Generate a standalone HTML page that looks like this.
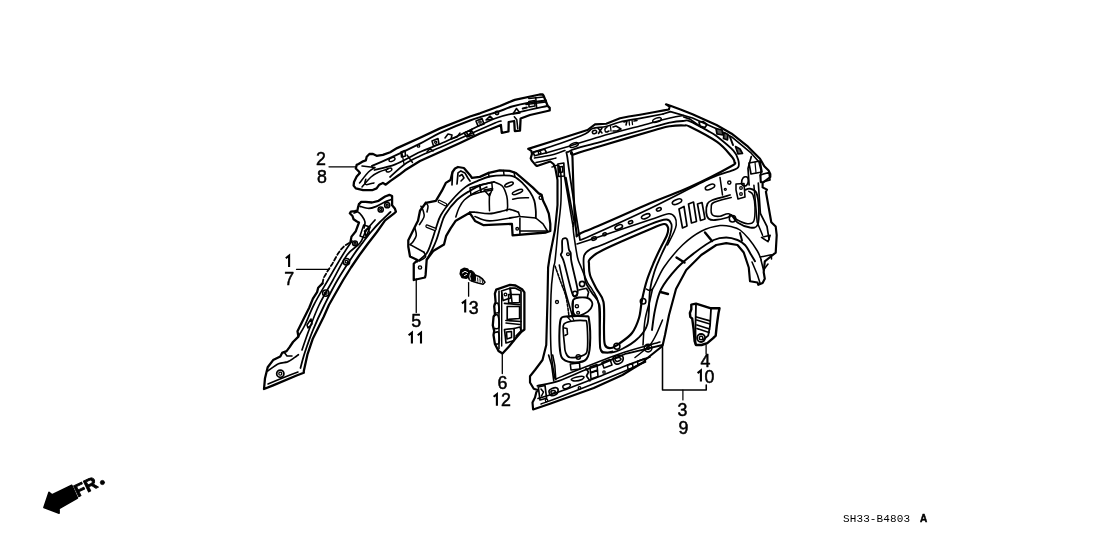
<!DOCTYPE html>
<html><head><meta charset="utf-8"><style>
html,body{margin:0;padding:0;background:#fff;}
body{width:1108px;height:553px;overflow:hidden;}
svg{display:block;filter:grayscale(1);}
.lbl{font-family:"Liberation Sans",sans-serif;fill:#000;stroke:#000;stroke-width:0.5px;}
.code{font-family:"Liberation Mono",monospace;fill:#000;}
</style></head><body>
<svg width="1108" height="553" viewBox="0 0 1108 553" stroke-linejoin="round" stroke-linecap="round">
<path d="M355.8,168.5 L356.7,164.9 L358.6,164 L363.1,161.3 L365.8,160.4 L366.7,156.7 L369.4,154 L373,154 L376.6,155.8 L382.9,154.9 L390.2,152.2 L397.1,148.1 L420,137.7 L440,128.4 L470,116.5 L480,113.3 L500,106 L512.8,100.6 L514.8,99.9 L539.7,94.5 L542.7,94.5 L543.7,96 L547.7,105.9 L549.7,107.9 L549.7,110.5 L530,115 L520.6,118.5 L520,130.6 L514.8,131 L514.2,121 L508.7,122 L508.5,131.5 L501.8,132.8 L500.9,125 L480,133.5 L460,143 L440,152 L420,161 L405,170.3 L399.2,174.8 L390.2,181.1 L385.7,184.7 L382.9,182.9 L379.3,184.7 L376.6,188.4 L372.1,190.2 L363.1,190.2 L355.8,188.4 L353.6,185.6 L354,182 L356.7,176.6 L359.9,173 L358.6,171.2 Z" fill="#fff" stroke="#000" stroke-width="2.28" />
<path d="M372,166 C374.7,164.8 380.1,162.6 388.1,158.9 C396.1,155.2 411.4,147.9 420,143.6 C428.6,139.3 431.7,136.8 440,132.9 C448.3,129.1 460.0,124.2 470,120.5 C480.0,116.8 493.0,113.3 500,111 C507.0,108.7 507.0,107.9 512,106.5 C517.0,105.1 524.3,103.5 530,102.5 C535.7,101.5 543.3,100.8 546,100.5" fill="none" stroke="#000" stroke-width="1.92" />
<path d="M374.5,170 C378.0,169.1 387.7,167.4 395.3,164.4 C402.9,161.4 412.6,155.4 420,152 C427.4,148.6 433.3,146.8 440,144 C446.7,141.2 450.8,139.2 460,135 C469.2,130.8 485.0,122.3 495,118.5 C505.0,114.7 511.3,114.1 520,112 C528.7,109.9 542.5,107.0 547,106" fill="none" stroke="#000" stroke-width="1.7999999999999998" />
<path d="M390,177 C392.5,174.8 400.0,167.5 405,164 C410.0,160.5 414.2,158.8 420,156 C425.8,153.2 433.3,150.4 440,147.5 C446.7,144.6 450.8,142.6 460,138.5 C469.2,134.4 488.2,125.9 495,123 C501.8,120.1 500.0,121.3 501,121" fill="none" stroke="#000" stroke-width="1.68" />
<path d="M362,166 L374.8,167.6" fill="none" stroke="#000" stroke-width="1.56" />
<path d="M365.8,179.3 C365.6,179.9 364.8,182.1 364.9,183 C365.0,183.9 365.2,184.7 366.7,184.7 C368.2,184.7 372.7,183.2 373.9,182.9" fill="none" stroke="#000" stroke-width="1.56" />
<path d="M359.5,183 C361.0,181.2 365.9,174.6 368.5,172 C371.1,169.4 373.8,168.3 374.8,167.6" fill="none" stroke="#000" stroke-width="1.56" />
<path d="M362,187 C363.5,185.3 368.2,179.5 371,177 C373.8,174.5 376.2,173.3 379,172 C381.8,170.7 386.5,169.5 388,169" fill="none" stroke="#000" stroke-width="1.56" />
<path d="M407,155 L412.5,162.5" stroke="#000" stroke-width="1.4"/>
<path d="M402,153 L404,164" stroke="#000" stroke-width="1.3"/>
<path d="M528.8,98.5 L543.7,97" fill="none" stroke="#000" stroke-width="1.56" />
<path d="M526,104.5 L545.7,102" fill="none" stroke="#000" stroke-width="1.56" />
<path d="M535.7,97.5 L536.7,108" fill="none" stroke="#000" stroke-width="1.56" />
<path d="M514.3,116.8 L516.8,119.8 L517.8,128.8" fill="none" stroke="#000" stroke-width="1.55" />
<path d="M513,114 L516.5,108.5 L520,113 Z" fill="none" stroke="#000" stroke-width="1.56" />
<path d="M528.8,101.5 L534.7,100.5 L535,106 L529,107 Z" fill="none" stroke="#000" stroke-width="1.56" />
<path d="M522.8,108.5 L526.8,107.5" fill="none" stroke="#000" stroke-width="2.16" />
<circle cx="497" cy="113" r="1.6" fill="none" stroke="#000" stroke-width="1.6500000000000001"/>
<ellipse cx="392" cy="159.5" rx="3.2" ry="1.7" transform="rotate(-22 392 159.5)" fill="none" stroke="#000" stroke-width="1.4"/>
<ellipse cx="389" cy="170" rx="3" ry="1.7" transform="rotate(-22 389 170)" fill="none" stroke="#000" stroke-width="1.4"/>
<path d="M476,121 L482,118.5 L484,124 L478,126 Z" fill="none" stroke="#000" stroke-width="1.68" />
<circle cx="480" cy="122" r="1.2" fill="none" stroke="#000" stroke-width="1.3"/>
<path d="M486,120 L490,116 L493,119 Z" fill="none" stroke="#000" stroke-width="1.55" />
<path d="M445,138 L448,134 L452,135 L451,139 L457,137 L460,133" fill="none" stroke="#000" stroke-width="1.56" />
<path d="M464,133 L471,130 L474,134.5 L467,137 Z" fill="none" stroke="#000" stroke-width="1.56" />
<path d="M466,132 L469,136 L472,129" fill="none" stroke="#000" stroke-width="1.55" />
<path d="M432,141 L438,138.5 L439,144 L433.5,146 Z" fill="none" stroke="#000" stroke-width="1.56" />
<circle cx="435.7" cy="142.3" r="1.1" fill="none" stroke="#000" stroke-width="1.3"/>
<circle cx="418.5" cy="146" r="1.2" fill="none" stroke="#000" stroke-width="1.32"/>
<path d="M427,152 L430,148.5 L433,151" fill="none" stroke="#000" stroke-width="1.56" />
<path d="M401,152 L405,150.5 L405.5,156 L401.5,157 Z" fill="none" stroke="#000" stroke-width="1.56" />
<path d="M329,166.8 L356,166.8" stroke="#000" stroke-width="1.3"/>
<path d="M359,204.1 L361.2,201.9 L365.6,201.9 L372,202.5 L378.6,200.8 L385.1,196.5 L389.4,194.9 L392.1,196 L392.1,205.2 L394.8,208.4 L395.9,211.7 L394.8,212.8 L385.1,220.4 L376.9,232 L368,243.5 L359.5,255 L351,267.5 L343.2,280 L336,292.5 L328.9,305 L323.7,316.7 L312.9,338.4 L307.4,354.7 L303.8,371 L303.8,372.8 L296.6,375.5 L273.1,385.4 L264,389 L265,378.2 L267.7,367.3 L273.1,360.1 L280.3,356.5 L282.1,352.9 L286.6,351.1 L289.4,347.4 L293,342 L298.4,336.6 L297.5,331.2 L303.8,318.5 L309.2,307.7 L312.9,298.6 L317.1,292.1 L318.2,287.7 L322.5,283.4 L323.6,278 L328,270.4 L332.3,263.9 L337.7,254.1 L340.6,250 L343.9,246.4 L347.1,244.2 L350.4,242.1 L351.5,236.6 L355.8,231.2 L359,222.5 L356.9,221.5 L353.6,219.3 L352.5,216 L349.8,213.3 L350.9,211.7 L354.7,211.1 L357.4,210.6 L358,207.4 Z" fill="#fff" stroke="#000" stroke-width="1.55" stroke-opacity="0"/>
<path d="M359,204.1 L361.2,201.9 L365.6,201.9 L372,202.5 L378.6,200.8 L385.1,196.5 L389.4,194.9 L392.1,196 L392.1,205.2 L394.8,208.4 L395.9,211.7 L394.8,212.8 L385.1,220.4 L376.9,232 L368,243.5 L359.5,255 L351,267.5 L343.2,280 L336,292.5 L328.9,305 L323.7,316.7 L312.9,338.4 L307.4,354.7 L303.8,371 L303.8,372.8 L296.6,375.5 L273.1,385.4 L264,389 L265,378.2 L267.7,367.3 L273.1,360.1 L280.3,356.5 L282.1,352.9 L286.6,351.1 L289.4,347.4 L293,342 L298.4,336.6 L297.5,331.2 L303.8,318.5 L309.2,307.7 L312.9,298.6 L317.1,292.1 L318.2,287.7 L322.5,283.4" fill="none" stroke="#000" stroke-width="2.28" />
<path d="M350.4,242.1 L351.5,236.6 L355.8,231.2 L359,222.5 L356.9,221.5 L353.6,219.3 L352.5,216 L349.8,213.3 L350.9,211.7 L354.7,211.1 L357.4,210.6 L358,207.4 L359,204.1" fill="none" stroke="#000" stroke-width="2.28" />
<path d="M322.5,283.4 L323.6,278 L328,270.4 L332.3,263.9 L337.7,254.1 L340.6,250 L343.9,246.4 L347.1,244.2 L350.4,242.1" fill="none" stroke="#000" stroke-width="1.7999999999999998" stroke-dasharray="4 2.5"/>
<path d="M360.1,206.3 C361.6,206.7 366.1,208.4 368.8,208.4 C371.5,208.4 373.7,207.4 376.4,206.3 C379.1,205.2 382.8,203.0 385.1,201.9 C387.5,200.8 389.6,200.2 390.5,199.8" fill="none" stroke="#000" stroke-width="1.7999999999999998" />
<path d="M354,213 C354.7,212.8 356.7,211.5 358,212 C359.3,212.5 360.8,214.3 362,216 C363.2,217.7 364.7,220.0 365,222 C365.3,224.0 364.2,227.0 364,228" fill="none" stroke="#000" stroke-width="1.68" />
<path d="M390.5,212 C388.8,213.7 383.2,218.7 380,222 C376.8,225.3 374.0,228.4 371,232 C368.0,235.6 364.9,239.7 362,243.5 C359.1,247.3 357.6,248.9 353.5,255 C349.4,261.1 342.4,271.7 337.5,280 C332.6,288.3 328.5,296.7 324.4,305 C320.3,313.3 316.2,322.2 313,330 C309.8,337.8 307.1,345.7 305,352 C302.9,358.3 301.2,365.3 300.5,368" fill="none" stroke="#000" stroke-width="1.7999999999999998" />
<path d="M375,220 C373.5,221.8 368.5,227.2 366,231 C363.5,234.8 363.2,239.0 360,243 C356.8,247.0 351.5,248.8 347,255 C342.5,261.2 337.6,271.7 333,280 C328.4,288.3 323.1,296.7 319.1,305 C315.1,313.3 311.9,322.5 309,330 C306.1,337.5 303.2,346.7 302,350" fill="none" stroke="#000" stroke-width="1.68" />
<path d="M352,241 C350.4,243.3 346.7,248.5 342.7,255 C338.7,261.5 332.8,271.7 328,280 C323.2,288.3 317.6,297.5 313.8,305 C310.0,312.5 307.6,319.7 305,325 C302.4,330.3 299.2,335.0 298,337" fill="none" stroke="#000" stroke-width="1.68" />
<path d="M363.7,225 L370.2,227 L365.5,238 L360,236 Z" fill="none" stroke="#000" stroke-width="1.56" />
<circle cx="380.7" cy="209.5" r="2.6" fill="none" stroke="#000" stroke-width="1.54"/>
<circle cx="380.7" cy="209.5" r="1.04" fill="none" stroke="#000" stroke-width="1.3"/>
<circle cx="387.2" cy="205.2" r="2.6" fill="none" stroke="#000" stroke-width="1.54"/>
<circle cx="387.2" cy="205.2" r="1.04" fill="none" stroke="#000" stroke-width="1.3"/>
<circle cx="346.4" cy="261.7" r="3.2" fill="none" stroke="#000" stroke-width="1.54"/>
<circle cx="346.4" cy="261.7" r="1.2800000000000002" fill="none" stroke="#000" stroke-width="1.3"/>
<circle cx="325.8" cy="293.1" r="3.2" fill="none" stroke="#000" stroke-width="1.54"/>
<circle cx="325.8" cy="293.1" r="1.2800000000000002" fill="none" stroke="#000" stroke-width="1.3"/>
<circle cx="355" cy="243.3" r="2.4" fill="none" stroke="#000" stroke-width="1.54"/>
<circle cx="355" cy="243.3" r="0.96" fill="none" stroke="#000" stroke-width="1.3"/>
<path d="M364.5,231 L368,228 L369.5,233 L366,236 Z" fill="none" stroke="#000" stroke-width="1.55" />
<path d="M307,325 L311,319 L312,324 L308,328 Z" fill="none" stroke="#000" stroke-width="1.55" />
<path d="M267.7,371 C269.5,369.8 275.2,365.2 278.5,363.7 C281.8,362.2 284.8,362.9 287.5,361.9 C290.2,360.8 293.0,358.6 294.8,357.4 C296.6,356.2 297.8,355.1 298.4,354.7" fill="none" stroke="#000" stroke-width="1.68" />
<path d="M268,384 C270.8,382.8 280.0,379.0 285,377 C290.0,375.0 295.8,372.8 298,372" fill="none" stroke="#000" stroke-width="1.56" />
<path d="M284,352 L287,356 L292,356" fill="none" stroke="#000" stroke-width="1.56" />
<circle cx="280.3" cy="373.7" r="3.6" fill="none" stroke="#000" stroke-width="1.7600000000000002"/>
<circle cx="280.3" cy="373.7" r="1.5" fill="none" stroke="#000" stroke-width="1.3"/>
<path d="M296.5,269.3 L329,269.3" stroke="#000" stroke-width="1.3"/>
<path d="M413.75,280 L413.75,263.75 L417.5,260 L410,256.5 L408.3,246.7 L408.3,240.2 L411.5,233.7 L415.8,225 L418,220.7 L420,210.8 L425.9,202.8 L435.9,200.8 L441.8,190.9 L445.8,182.9 L450.5,180 L452.5,172 L455,168.5 L458,167 L463.9,168 L469.9,174.9 L471.9,177.9 L479.8,176.9 L488.8,172.9 L499.7,170.4 L509.6,170.9 L516,173 L522.8,178.9 L532.9,187.6 L538.7,193.4 L541.6,194.8 L543,200.6 L545.9,206.4 L548.8,213.7 L550.3,223.8 L550.3,231 L545.9,232.5 L512.6,235.4 L511.9,223.8 L483.7,225.2 L475,220.9 L469.7,212.8 L455.8,220.7 L450.6,228.3 L446.2,235.8 L444,244.5 L433.2,251 L426.7,259.7 L425.6,274.9 L425,277.5 Z" fill="#fff" stroke="#000" stroke-width="2.28" />
<path d="M417,261.9 C418.6,260.4 424.2,256.8 426.7,253.2 C429.2,249.5 430.6,244.2 432.1,240 C433.7,235.8 434.5,232.2 436,228 C437.5,223.8 438.2,219.7 440.9,215 C443.6,210.3 448.0,204.7 452.1,200 C456.2,195.3 461.4,190.1 465.7,186.9 C470.0,183.7 473.7,182.6 477.7,180.9 C481.7,179.2 485.2,177.4 489.6,176.5 C494.0,175.6 499.9,175.3 504,175.3 C508.1,175.3 510.9,175.4 514,176.7 C517.1,178.0 520.1,180.8 522.8,183.3 C525.5,185.9 528.1,189.1 530,192 C531.9,194.9 533.3,197.5 534.3,200.6 C535.3,203.7 535.5,207.9 535.8,210.8 C536.0,213.7 535.8,216.8 535.8,218" fill="none" stroke="#000" stroke-width="1.7999999999999998" />
<path d="M426.7,259.7 C427.6,258.1 430.4,253.3 432,250 C433.6,246.7 435.0,243.8 436.4,240 C437.8,236.2 439.1,231.2 440.5,227 C441.9,222.8 442.3,219.5 445,215 C447.7,210.5 452.7,204.0 456.8,200 C460.9,196.0 465.6,193.4 469.7,190.9 C473.8,188.4 477.6,186.4 481.6,184.9 C485.6,183.4 491.8,182.3 493.8,181.8" fill="none" stroke="#000" stroke-width="1.7999999999999998" />
<path d="M455.8,217 C456.3,215.5 457.6,210.8 459,208 C460.4,205.2 461.6,202.6 464.3,200 C467.0,197.4 471.2,194.7 475,192.5 C478.8,190.3 485.0,187.9 487,187" fill="none" stroke="#000" stroke-width="1.55" />
<path d="M493.8,181.8 C495.2,182.5 500.3,183.8 502.5,186.2 C504.7,188.6 505.9,192.9 506.8,196.3 C507.7,199.7 507.6,204.0 507.6,206.4 C507.6,208.8 506.9,210.1 506.8,210.8" fill="none" stroke="#000" stroke-width="1.56" />
<path d="M469.7,212.2 C470.6,212.2 471.7,211.9 475,212.2 C478.3,212.4 484.7,213.9 489.5,213.7 C494.3,213.5 500.6,211.5 504,210.8 C507.4,210.1 507.3,209.1 509.7,209.3 C512.1,209.5 516.9,211.7 518.4,212.2" fill="none" stroke="#000" stroke-width="1.68" />
<path d="M518.4,212.2 L519.9,216.5 L535.8,218 L543,223.8 L547.4,231" fill="none" stroke="#000" stroke-width="1.56" />
<path d="M475,216.5 C477.4,217.2 482.3,220.9 489.5,220.9 C496.7,220.9 513.6,217.2 518.4,216.5" fill="none" stroke="#000" stroke-width="1.68" />
<path d="M519.9,218 L519.9,233.9" fill="none" stroke="#000" stroke-width="1.56" />
<path d="M519.9,231 L547.4,231" fill="none" stroke="#000" stroke-width="1.55" />
<circle cx="517.2" cy="228.8" r="1.3" fill="none" stroke="#000" stroke-width="1.32"/>
<path d="M457,184 L458,172.9 L460.9,170.9 L464.9,172.9 L467.9,178 L470,181" fill="none" stroke="#000" stroke-width="1.68" />
<path d="M452.5,172 L452,184.9" fill="none" stroke="#000" stroke-width="1.68" />
<path d="M459.5,176 L462,174.5 L464,178 L461,181" fill="none" stroke="#000" stroke-width="1.55" />
<path d="M488.5,172.5 L489,177" stroke="#000" stroke-width="1.5"/>
<path d="M503.5,170.5 L504,175" stroke="#000" stroke-width="1.5"/>
<path d="M514,172 L515,177" stroke="#000" stroke-width="1.5"/>
<path d="M439.4,201.5 L445.5,204.6" stroke="#000" stroke-width="3.6" stroke-linecap="round"/>
<path d="M439.4,201.5 L445.5,204.6" stroke="#fff" stroke-width="1.2" stroke-linecap="round"/>
<path d="M427.1,226.2 L434.8,229.2" stroke="#000" stroke-width="3.6" stroke-linecap="round"/>
<path d="M427.1,226.2 L434.8,229.2" stroke="#fff" stroke-width="1.2" stroke-linecap="round"/>
<path d="M420.9,206.2 C421.3,207.0 422.7,209.0 423.2,210.8 C423.7,212.6 424.6,214.6 424,216.9 C423.4,219.2 420.2,223.3 419.4,224.6" fill="none" stroke="#000" stroke-width="1.56" />
<path d="M414.8,227.7 C415.1,229.0 416.6,233.1 416.3,235.4 C416.0,237.7 414.2,240.0 413.2,241.5 C412.2,243.0 410.7,244.1 410.2,244.6" fill="none" stroke="#000" stroke-width="1.56" />
<path d="M410.2,244.6 L424,252.3" fill="none" stroke="#000" stroke-width="1.56" />
<path d="M424,252.3 C424.2,253.1 426.2,255.6 425.5,257 C424.8,258.4 420.5,260.3 419.5,261" fill="none" stroke="#000" stroke-width="1.55" />
<path d="M425.5,202.3 C425.9,202.9 427.8,204.4 428,206 C428.2,207.6 427.2,211.0 427,212" fill="none" stroke="#000" stroke-width="1.55" />
<path d="M470,188 L479.8,185 L481,192 L471,195 Z" fill="none" stroke="#000" stroke-width="1.56" />
<path d="M479.8,185 L491.8,182.5 L492.5,190 L481,192 Z" fill="none" stroke="#000" stroke-width="1.56" />
<path d="M484,190 L492.5,188.5 L489.5,196 Z" fill="none" stroke="#000" stroke-width="1.56" />
<ellipse cx="509" cy="184.5" rx="4.5" ry="1.7" transform="rotate(-22 509 184.5)" fill="none" stroke="#000" stroke-width="1.6"/>
<ellipse cx="517.5" cy="192" rx="5.5" ry="1.7" transform="rotate(-22 517.5 192)" fill="none" stroke="#000" stroke-width="1.6"/>
<path d="M512.6,199.2 C513.8,199.0 517.4,198.2 520,198 C522.6,197.8 527.1,197.8 528.5,197.7" fill="none" stroke="#000" stroke-width="1.55" />
<path d="M489.5,193.4 C489.5,194.8 489.3,199.1 489.3,202 C489.3,204.9 489.5,209.3 489.5,210.8" fill="none" stroke="#000" stroke-width="1.55" />
<circle cx="540.8" cy="197.7" r="1.7" fill="none" stroke="#000" stroke-width="1.4300000000000002"/>
<circle cx="420" cy="267.5" r="1.6" fill="none" stroke="#000" stroke-width="1.4300000000000002"/>
<path d="M416.25,279 L416.25,312.5" stroke="#000" stroke-width="1.3"/>
<path d="M473,274.3 L479,276.5 L482.5,279 L485,282.2 L483,284.2 L478,283 L473,281.5 Z" fill="#fff" stroke="#000" stroke-width="1.56" />
<path d="M475.3,277.0 L475.6,280.8" stroke="#000" stroke-width="0.9"/>
<path d="M477.6,277.9 L477.90000000000003,281.40000000000003" stroke="#000" stroke-width="0.9"/>
<path d="M479.90000000000003,278.8 L480.20000000000005,282.0" stroke="#000" stroke-width="0.9"/>
<path d="M482.2,279.7 L482.5,282.6" stroke="#000" stroke-width="0.9"/>
<ellipse cx="471.5" cy="276" rx="3.8" ry="5.6" transform="rotate(-20 471.5 276)" fill="#000" stroke="#000" stroke-width="1"/>
<path d="M461,270 L464,268.3 L467.5,269 L469.5,272 L469,276.5 L466,278.3 L462,277.5 L460.2,274 Z" fill="#000" stroke="#000" stroke-width="1.55" />
<path d="M470.3,273.5 Q468.8,276.5 470.5,279.5" fill="none" stroke="#fff" stroke-width="0.9"/>
<path d="M462.3,273 L465,271.3 L467.5,272.5 M464.5,275.5 L466.5,274.5" fill="none" stroke="#fff" stroke-width="1"/>
<path d="M468.6,282.6 L468.6,296.2" stroke="#000" stroke-width="1.3"/>
<path d="M496.2,289.6 L510,284.8 L515.5,285.5 L522.4,289.6 L524.4,292.4 L524.4,329.5 L521,332.2 L515.5,338.5 L509,346.5 L502.5,353.5 L498.5,351 L494.9,344 L493.5,335 L494.2,330.9 L492.8,325.4 L493.5,317.1 L494.9,314.4 L494.2,306.1 L495.6,302 L494.9,293.7 Z" fill="#fff" stroke="#000" stroke-width="2.28" />
<path d="M499,291 L499,348.7" stroke="#000" stroke-width="1.6"/>
<path d="M501.7,292.4 L501.7,346" stroke="#000" stroke-width="1.4"/>
<path d="M501.5,291 L510,288.2 L510.7,297.9 L503.1,300.6 Z" fill="none" stroke="#000" stroke-width="1.56" />
<circle cx="505.5" cy="294.5" r="1.4" fill="none" stroke="#000" stroke-width="1.3"/>
<path d="M510,288.2 L515.5,288.2 L521,291 L521,330.9 L516,336" fill="none" stroke="#000" stroke-width="1.68" />
<path d="M510.5,289 L512,302" fill="none" stroke="#000" stroke-width="1.55" />
<path d="M504.5,303.4 L519.6,304.7" fill="none" stroke="#000" stroke-width="1.68" />
<path d="M507.2,306.5 L519.6,306.5 L519.6,318.5 L507.2,319.5 Z" fill="none" stroke="#000" stroke-width="1.68" />
<path d="M508.6,294.5 L519.6,294.5 L519.6,302.5 L508.6,303 Z" fill="none" stroke="#000" stroke-width="1.56" />
<path d="M505.9,320.5 L521,321.5" fill="none" stroke="#000" stroke-width="1.68" />
<path d="M506,323 L520,324.5" fill="none" stroke="#000" stroke-width="1.56" />
<path d="M504.5,329.5 L514.1,328.5 L514.1,340.5 L506,343 Z" fill="none" stroke="#000" stroke-width="1.68" />
<path d="M506.5,332 L511.5,331.5 L511.5,337.5 L507,339 Z" fill="none" stroke="#000" stroke-width="1.55" />
<path d="M514.1,328.5 L520,327 L521,330.9" fill="none" stroke="#000" stroke-width="1.55" />
<path d="M494.5,304 C495.1,303.9 497.2,302.2 498,303.5 C498.8,304.8 499.5,310.4 499,312 C498.5,313.6 495.7,312.8 495,313" fill="none" stroke="#000" stroke-width="1.68" />
<path d="M493.5,316 C494.2,315.9 497.1,313.6 498,315.5 C498.9,317.4 499.7,325.3 499,327.5 C498.3,329.7 494.8,328.3 494,328.5" fill="none" stroke="#000" stroke-width="1.68" />
<path d="M494,333 C494.8,332.9 497.7,330.8 498.5,332.5 C499.3,334.2 499.6,341.1 499,343 C498.4,344.9 495.7,343.8 495,344" fill="none" stroke="#000" stroke-width="1.68" />
<path d="M502.3,353 L502.3,373.5" stroke="#000" stroke-width="1.3"/>
<path d="M528.2,148.9 L550,142 L587.5,130 L595,124.4 L606.25,123.75 L620,118.3 L628.75,116.5 L640,114.7 L655,112 L663.9,110.4 L668.9,109.5 L669.6,106.6 L666,104.4 L670.4,105.8 L680.5,109.5 L692.5,114.25 L716.5,125 L731.7,133.7 L748,146.7 L760,158.7 L764.3,166.3 L768.6,170.6 L770.3,173.9 L770.3,177 L762.6,183 L762.6,187.4 L767,189.6 L765.9,191.7 L771.3,222.2 L775.7,226.5 L776.7,235.2 L775.7,252.6 L770.2,257 L764.8,261.3 L763.7,272.2 L764.8,278.7 L762.6,283 L758.3,284.8 L757.5,282.5 L750,281.25 L748.75,267.5 L743.75,252.5 L737.5,245 L726.25,243.1 L716.25,245 L701.25,255 L686.25,270 L676,289 L669,315 L665,335 L662.5,346 L645,360 L643.75,362 L632.5,368.75 L622.5,375 L593.75,388.1 L550,403.75 L533.1,409.4 L532.5,402.5 L535,397.5 L536.25,392.5 L537.5,390 L533.75,388.75 L530,382.5 L530,376.25 L535,370 L542.5,360 L546.25,345 L547.5,299 L548.1,267.5 L550,255 L555,230 L557.5,205 L557.5,180 L556.6,175 L555.4,168.5 L553.5,164 L550.3,161.5 L537,166 L535.8,165.3 L532,160.9 L530.7,158.4 L532,153.9 L531.3,150.8 Z" fill="#fff" stroke="#000" stroke-width="2.16" />
<path d="M532.5,152.5 C537.1,151.0 551.2,146.6 560,143.5 C568.8,140.4 579.6,136.5 585,134 C590.4,131.5 589.0,129.8 592.5,128.5 C596.0,127.2 601.4,127.6 606,126.5 C610.6,125.4 614.3,123.4 620,122 C625.7,120.6 632.8,119.6 640,118.3 C647.2,117.0 659.2,114.7 663,114" fill="none" stroke="#000" stroke-width="1.68" />
<path d="M663,114 L670.4,111.6 L692.5,118 L715.4,128.3 L731.7,136.9 L751.3,153.2 L759,162 L761,170 L760.5,182" fill="none" stroke="#000" stroke-width="1.68" />
<path d="M546,153 C550.0,151.8 561.0,148.7 570,146 C579.0,143.3 588.3,140.0 600,136.7 C611.7,133.4 628.3,129.1 640,126 C651.7,122.9 662.7,119.8 670,118.1 C677.3,116.3 681.5,115.9 683.75,115.5" fill="none" stroke="#000" stroke-width="1.56" />
<path d="M683.75,117 L690,119.1 L701,127" fill="none" stroke="#000" stroke-width="1.68" />
<path d="M751.3,156.5 L748,168.4 L749.1,185" fill="none" stroke="#000" stroke-width="1.68" />
<path d="M749,163 L760,161 L762,172 L751,174 Z" fill="none" stroke="#000" stroke-width="1.68" />
<path d="M755,162 L756,173" stroke="#000" stroke-width="1.2"/>
<path d="M760,175 L769,172.5 L770,180 L761,182.5 Z" fill="none" stroke="#000" stroke-width="1.68" />
<path d="M758.3,183 L760.4,213.5 L767,226.5 L769.1,239.6" fill="none" stroke="#000" stroke-width="1.68" />
<path d="M753.9,185.2 L757.2,222.2 L762.6,235.2" fill="none" stroke="#000" stroke-width="1.56" />
<path d="M761.5,237.4 L770.2,235.2 L768,241.7 Z" fill="none" stroke="#000" stroke-width="1.56" />
<path d="M760.4,257 L771.3,254.8 L771.5,259" fill="none" stroke="#000" stroke-width="1.56" />
<path d="M533.2,152.3 L544.6,149.2 L546.5,152.7 L534.5,155.8 Z" fill="none" stroke="#000" stroke-width="1.68" />
<circle cx="539.6" cy="152.7" r="1.3" fill="none" stroke="#000" stroke-width="1.4300000000000002"/>
<path d="M534.5,158 C537.4,157.5 546.5,156.2 551.6,155 C556.7,153.8 562.8,151.2 565,150.5" fill="none" stroke="#000" stroke-width="1.56" />
<path d="M536,162.5 C538.3,162.0 546.7,160.2 550,159.5 C553.3,158.8 555.0,158.2 556,158" fill="none" stroke="#000" stroke-width="1.55" />
<path d="M580,240 C578.0,227.0 569.7,176.8 568,162 C566.3,147.2 564.7,154.3 570,151 C575.3,147.7 585.8,146.2 600,142.1 C614.2,138.0 643.3,129.8 655,126.5 C666.7,123.2 665.3,123.5 670,122.6 C674.7,121.7 679.7,121.2 683,121 C686.3,120.8 685.5,119.5 690,121.3 C694.5,123.1 705.5,129.5 710,132 C714.5,134.5 713.2,133.4 717.1,136.5 C721.0,139.6 729.9,146.7 733.4,150.6 C736.9,154.5 737.4,156.9 738.2,159.7 C739.0,162.5 739.3,165.5 738.2,167.3 C737.1,169.1 736.4,168.7 731.7,170.6 C727.0,172.5 723.6,172.2 710,178.5 C696.4,184.8 670.0,198.9 650,208.5 C630.0,218.1 601.7,230.8 590,236 C578.3,241.2 581.7,239.3 580,240" fill="none" stroke="#000" stroke-width="1.7999999999999998" />
<path d="M573.5,154.5 C578.1,152.5 586.4,150.3 600,146.2 C613.6,142.1 643.3,133.3 655,130 C666.7,126.7 665.2,127.0 670,126.2 C674.8,125.5 680.7,125.4 684,125.5 C687.3,125.6 684.5,124.0 690,126.7 C695.5,129.4 710.2,137.0 717.1,141.9 C724.0,146.8 728.3,152.7 731.2,156 C734.1,159.3 734.5,159.9 734.4,161.7 C734.3,163.4 738.1,162.3 730.7,166.5 C723.3,170.7 703.5,180.9 690,187 C676.5,193.1 667.5,195.8 650,203.2 C632.5,210.6 597.3,226.9 585,231.25 C572.7,235.6 578.1,241.2 576,229 C573.9,216.8 572.9,170.4 572.5,158 C572.1,145.6 568.9,156.5 573.5,154.5 Z" fill="none" stroke="#000" stroke-width="2.16" />
<path d="M552,167 C553.3,167.2 558.5,162.5 560,168 C561.5,173.5 561.3,189.7 561,200 C560.7,210.3 559.0,219.8 558,230 C557.0,240.2 555.8,254.7 555,261 C554.2,267.3 554.2,262.3 553.5,268 C552.8,273.7 551.4,281.3 551,295 C550.6,308.7 550.3,336.0 551,350 C551.7,364.0 554.3,374.0 555,378.75" fill="none" stroke="#000" stroke-width="1.56" />
<path d="M573,226 C573.2,227.7 573.2,230.8 574,236 C574.8,241.2 576.3,252.2 577.5,257.5 C578.7,262.8 579.6,263.3 581.25,267.5 C582.9,271.7 585.6,278.8 587.5,282.5 C589.4,286.2 590.6,286.2 592.5,290 C594.4,293.8 597.5,295.4 598.75,305 C600.0,314.6 598.8,339.6 600,347.5 C601.2,355.4 604.2,351.9 606.25,352.5 C608.3,353.1 611.5,351.5 612.5,351.25" fill="none" stroke="#000" stroke-width="1.56" />
<path d="M555,266 C555.8,268.3 558.2,274.8 560,280 C561.8,285.2 564.5,290.8 566,297 C567.5,303.2 568.6,313.7 569.1,317" fill="none" stroke="#000" stroke-width="1.55" stroke-dasharray="2.5 1.5"/>
<path d="M559.3,265 C560.2,269.2 562.8,281.5 565,290 C567.2,298.5 571.2,311.7 572.4,316" fill="none" stroke="#000" stroke-width="1.56" />
<path d="M557.9,164 L563.8,163 L564.4,176 L558.5,176.5 Z" fill="none" stroke="#000" stroke-width="1.68" />
<path d="M559.5,167 L562.5,166.5 L562.8,172 L559.8,172.5 Z" fill="none" stroke="#000" stroke-width="1.55" />
<path d="M564.4,176 L572.5,223.2 L573.3,226.4 L574.1,221.5 L566,177.6" fill="none" stroke="#000" stroke-width="1.56" />
<path d="M564.4,238.3 C565.2,238.2 566.4,237.6 567.1,239.4 C567.9,241.2 568.3,247.1 568.9,249.4 C569.5,251.7 570.3,250.9 570.7,253 C571.1,255.1 570.4,256.0 571.5,262 C572.6,268.0 576.7,283.5 577.5,289 C578.3,294.5 577.3,294.2 576.5,295 C575.7,295.8 574.5,299.0 572.5,294 C570.5,289.0 566.4,270.9 564.8,265 C563.1,259.1 563.3,260.1 562.6,258.4 C561.9,256.7 560.9,256.0 560.8,254.8 C560.7,253.6 562.0,253.6 562.2,251.2 C562.4,248.8 561.8,242.5 562.2,240.3 C562.6,238.2 563.6,238.5 564.4,238.3 Z" fill="none" stroke="#000" stroke-width="1.7999999999999998" />
<circle cx="568" cy="254.3" r="1.4" fill="none" stroke="#000" stroke-width="1.32"/>
<path d="M590,259 C592.3,256.7 593.0,254.9 603,250 C613.0,245.1 639.8,233.6 650,229.3 C660.2,225.0 661.0,224.3 664,224 C667.0,223.7 667.5,225.7 668,227.5 C668.5,229.3 668.2,231.8 667,235 C665.8,238.2 663.2,242.5 661,247 C658.8,251.5 656.3,256.5 654,262 C651.7,267.5 649.0,273.7 647,280 C645.0,286.3 643.3,293.7 642,300 C640.7,306.3 640.7,312.5 639,318 C637.3,323.5 635.2,328.8 632,333 C628.8,337.2 623.5,340.5 620,343 C616.5,345.5 613.5,347.7 611,348 C608.5,348.3 606.2,348.0 605,345 C603.8,342.0 604.2,337.2 604,330 C603.8,322.8 604.8,309.0 603.5,302 C602.2,295.0 598.2,292.5 596,288 C593.8,283.5 591.2,279.0 590,275 C588.8,271.0 589.0,266.7 589,264 C589.0,261.3 587.7,261.3 590,259 Z" fill="none" stroke="#000" stroke-width="2.16" />
<path d="M584,256 C585.0,252.6 586.8,251.4 590,249.5 C593.2,247.6 593.0,248.7 603,244.5 C613.0,240.3 639.5,228.6 650,224.4 C660.5,220.2 662.7,219.6 666.25,219.5 C669.8,219.4 670.4,222.0 671.25,223.75 C672.1,225.5 671.7,227.5 671.25,230 C670.8,232.5 670.4,234.8 668.75,239 C667.1,243.2 663.5,249.8 661.25,255 C659.0,260.2 656.9,264.2 655,270 C653.1,275.8 651.2,281.0 650,290 C648.8,299.0 649.6,315.6 647.5,323.75 C645.4,331.9 641.7,334.6 637.5,338.75 C633.3,342.9 626.9,346.5 622.5,348.75 C618.1,351.0 614.8,352.3 611.25,352.5 C607.7,352.7 602.9,353.8 601,350 C599.1,346.2 600.2,337.5 600,330 C599.8,322.5 600.8,311.2 599.5,305 C598.2,298.8 594.2,296.7 592,293 C589.8,289.3 587.3,286.8 586,283 C584.7,279.2 584.3,274.5 584,270 C583.7,265.5 583.0,259.4 584,256 Z" fill="none" stroke="#000" stroke-width="1.7999999999999998" />
<path d="M577,244 C580.8,242.8 587.8,240.5 600,236.5 C612.2,232.5 638.5,223.6 650,219.8 C661.5,216.0 664.6,214.1 668.75,213.75 C672.9,213.4 673.8,215.6 675,217.5 C676.2,219.4 676.5,222.5 676.25,225 C676.0,227.5 675.2,229.2 673.75,232.5 C672.3,235.8 668.5,242.9 667.5,245" fill="none" stroke="#000" stroke-width="1.56" />
<path d="M561,318.5 C562.1,316.2 562.0,316.9 566,316.5 C570.0,316.1 581.2,315.8 585,316.3 C588.8,316.8 588.2,314.7 589,319.5 C589.8,324.3 590.4,338.4 590,345 C589.6,351.6 589.0,356.1 586.5,359 C584.0,361.9 578.9,362.5 575,362.5 C571.1,362.5 565.5,361.1 563,359 C560.5,356.9 560.6,354.8 560,350 C559.4,345.2 559.3,335.2 559.5,330 C559.7,324.8 559.9,320.8 561,318.5 Z" fill="none" stroke="#000" stroke-width="2.04" />
<path d="M564,324 C565.1,322.6 566.7,322.1 570,321.5 C573.3,320.9 580.9,320.2 583.7,320.6 C586.5,321.0 586.3,319.3 586.9,323.75 C587.5,328.2 588.0,342.3 587.5,347.5 C587.0,352.7 586.9,353.3 584,355 C581.1,356.7 573.1,358.0 570,357.5 C566.9,357.0 566.4,354.1 565.5,352 C564.6,349.9 564.9,348.7 564.5,345 C564.1,341.3 563.3,333.5 563.2,330 C563.1,326.5 562.9,325.4 564,324 Z" fill="none" stroke="#000" stroke-width="1.68" />
<path d="M564.5,328 L567,328.5 L567.5,334 L565,335.5" fill="none" stroke="#000" stroke-width="1.56" />
<path d="M567,316.5 L571,321" stroke="#000" stroke-width="1.2"/>
<path d="M572,316.5 L574,320.6" stroke="#000" stroke-width="1.2"/>
<circle cx="578.3" cy="357" r="2.2" fill="none" stroke="#000" stroke-width="1.4300000000000002"/>
<circle cx="557" cy="302" r="1.5" fill="none" stroke="#000" stroke-width="1.32"/>
<circle cx="576.9" cy="306.2" r="1.6" fill="none" stroke="#000" stroke-width="1.4300000000000002"/>
<circle cx="578.1" cy="312.7" r="1.4" fill="none" stroke="#000" stroke-width="1.32"/>
<circle cx="582.1" cy="284" r="2.6" fill="none" stroke="#000" stroke-width="1.6500000000000001"/>
<circle cx="575" cy="293.7" r="2.4" fill="none" stroke="#000" stroke-width="1.54"/>
<path d="M578.9,290 L586.5,288.3 L588.6,292.1 L587.5,296.5" fill="none" stroke="#000" stroke-width="1.68" />
<path d="M573.4,299.7 C575.4,297.2 582.3,297.1 585.4,297.5 C588.5,297.9 591.0,300.1 591.9,301.9 C592.8,303.7 592.1,306.4 590.8,308.4 C589.5,310.4 586.6,312.5 584.3,313.8 C581.9,315.1 578.5,316.2 576.7,316 C574.9,315.8 574.0,315.4 573.4,312.7 C572.8,310.0 571.4,302.2 573.4,299.7 Z" fill="none" stroke="#000" stroke-width="1.7999999999999998" />
<path d="M573.4,299.7 L572.5,316.5" stroke="#000" stroke-width="1.4"/>
<path d="M662.5,320 C661.4,322.5 658.1,330.8 656,335 C653.9,339.2 652.3,342.2 650,345 C647.7,347.8 644.5,349.9 642,352 C639.5,354.1 636.2,356.6 635,357.5" fill="none" stroke="#000" stroke-width="1.56" />
<path d="M646.25,289 C647.3,289.0 649.6,292.6 652.5,289 C655.4,285.4 658.8,274.8 663.75,267.5 C668.8,260.2 676.2,251.0 682.5,245 C688.8,239.0 695.0,234.5 701.25,231.25 C707.5,228.0 714.8,226.3 720,225.6 C725.2,224.9 729.2,226.2 732.5,226.9 C735.8,227.6 737.3,228.0 740,230 C742.7,232.0 745.8,235.2 748.75,238.75 C751.7,242.3 755.4,247.7 757.5,251.25 C759.6,254.8 760.6,258.5 761.25,260" fill="none" stroke="#000" stroke-width="1.55" />
<path d="M652,330 C652.5,326.7 653.5,316.8 655,310 C656.5,303.2 657.5,296.1 661.25,289 C665.0,281.9 671.9,273.6 677.5,267.5 C683.1,261.4 689.0,257.1 695,252.5 C701.0,247.9 708.5,242.5 713.75,240 C719.0,237.5 722.3,237.5 726.25,237.5 C730.2,237.5 734.4,238.8 737.5,240 C740.6,241.2 742.7,242.5 745,245 C747.3,247.5 749.6,252.3 751.25,255 C752.9,257.7 754.4,260.2 755,261.25" fill="none" stroke="#000" stroke-width="1.92" />
<path d="M643,345 C643.3,340.8 643.8,327.5 645,320 C646.2,312.5 648.8,305.2 650,300 C651.2,294.8 652.1,290.8 652.5,289" fill="none" stroke="#000" stroke-width="1.55" />
<path d="M705,232.5 L712,241" stroke="#000" stroke-width="2.4"/>
<path d="M676.5,257.5 L684.5,262.5" stroke="#000" stroke-width="2.4"/>
<path d="M740,233 L742,240.5" stroke="#000" stroke-width="2.0"/>
<path d="M660.5,292 L668,294" stroke="#000" stroke-width="2.4"/>
<path d="M752,262 L757.5,275 L760,283" fill="none" stroke="#000" stroke-width="1.55" />
<path d="M761,260 L763.5,270 L768,264" fill="none" stroke="#000" stroke-width="1.55" />
<path d="M730,195 C727.1,195.8 716.2,198.5 712.5,200 C708.8,201.5 708.5,201.7 707.5,203.75 C706.5,205.8 706.0,210.0 706.25,212.5 C706.5,215.0 707.3,217.5 708.75,218.75 C710.2,220.0 711.9,220.2 715,220 C718.1,219.8 724.8,218.3 727.5,217.5 C730.2,216.7 729.6,214.2 731.25,215 C732.9,215.8 734.4,220.4 737.5,222.5 C740.6,224.6 746.7,227.1 750,227.5 C753.3,227.9 756.0,228.3 757.5,225 C759.0,221.7 759.0,212.9 758.75,207.5 C758.5,202.1 757.7,195.6 756.25,192.5 C754.8,189.4 751.9,189.2 750,188.75 C748.1,188.3 745.8,189.8 745,190" fill="none" stroke="#000" stroke-width="1.7999999999999998" />
<path d="M731.25,197.5 C728.3,198.3 717.1,200.8 713.75,202.5 C710.4,204.2 711.5,205.4 711.25,207.5 C711.0,209.6 711.0,213.5 712.5,215 C714.0,216.5 717.3,216.5 720,216.25 C722.7,216.0 725.8,213.1 728.75,213.75 C731.7,214.4 734.4,218.3 737.5,220 C740.6,221.7 744.8,223.5 747.5,223.75 C750.2,224.0 752.5,224.0 753.75,221.25 C755.0,218.5 755.1,211.9 755,207.5 C754.9,203.1 754.0,197.7 753,195 C752.0,192.3 749.5,191.9 748.75,191.25" fill="none" stroke="#000" stroke-width="1.55" />
<circle cx="732.5" cy="218.75" r="3.2" fill="none" stroke="#000" stroke-width="1.54"/>
<path d="M736,184 L744,183.5 L745,197 L738,199 L736,190 Z" fill="#fff" stroke="#000" stroke-width="1.56" />
<circle cx="741" cy="188" r="1.3" fill="none" stroke="#000" stroke-width="1.3"/>
<circle cx="741" cy="194" r="1.3" fill="none" stroke="#000" stroke-width="1.3"/>
<path d="M741.6,183 C741.6,181.8 742.1,179.0 743,178 C743.9,177.0 746.1,176.5 747,177 C747.9,177.5 748.4,179.6 748.3,181 C748.2,182.4 747.4,184.6 746.5,185.3 C745.6,186.1 743.8,185.9 743,185.5 C742.2,185.1 741.6,184.2 741.6,183 Z" fill="none" stroke="#000" stroke-width="1.68" />
<circle cx="729.3" cy="182.6" r="1.6" fill="none" stroke="#000" stroke-width="1.4300000000000002"/>
<circle cx="725.3" cy="189.3" r="1.0" fill="none" stroke="#000" stroke-width="1.3"/>
<path d="M720,177.5 L722.5,195" fill="none" stroke="#000" stroke-width="1.55" />
<path d="M679,209 L684,206.5 L687,226 L682.5,228 Z" fill="none" stroke="#000" stroke-width="1.68" />
<path d="M688.5,204 L693.5,202 L696.5,221.5 L691.5,223 Z" fill="none" stroke="#000" stroke-width="1.68" />
<path d="M697.5,204 L702,202.5 L705,219 L700.5,220.5 Z" fill="none" stroke="#000" stroke-width="1.68" />
<ellipse cx="594" cy="238.6" rx="2.5" ry="1.6" transform="rotate(-22 594 238.6)" fill="none" stroke="#000" stroke-width="1.6"/>
<ellipse cx="604.6" cy="234.2" rx="1.8" ry="1.3" transform="rotate(-22 604.6 234.2)" fill="none" stroke="#000" stroke-width="1.6"/>
<ellipse cx="618.7" cy="227" rx="4" ry="2" transform="rotate(-22 618.7 227)" fill="none" stroke="#000" stroke-width="1.6"/>
<ellipse cx="630.6" cy="222.3" rx="2.2" ry="1.4" transform="rotate(-22 630.6 222.3)" fill="none" stroke="#000" stroke-width="1.6"/>
<ellipse cx="645.7" cy="216.3" rx="4.5" ry="2" transform="rotate(-22 645.7 216.3)" fill="none" stroke="#000" stroke-width="1.6"/>
<ellipse cx="658.8" cy="209.3" rx="2.5" ry="1.5" transform="rotate(-22 658.8 209.3)" fill="none" stroke="#000" stroke-width="1.6"/>
<ellipse cx="677" cy="201.7" rx="5" ry="2.2" transform="rotate(-22 677 201.7)" fill="none" stroke="#000" stroke-width="1.6"/>
<ellipse cx="710" cy="187" rx="5" ry="2.2" transform="rotate(-22 710 187)" fill="none" stroke="#000" stroke-width="1.6"/>
<ellipse cx="574" cy="145" rx="4.5" ry="2" transform="rotate(-20 574 145)" fill="none" stroke="#000" stroke-width="1.5"/>
<ellipse cx="657" cy="120" rx="4.5" ry="2" transform="rotate(-20 657 120)" fill="none" stroke="#000" stroke-width="1.5"/>
<ellipse cx="594.5" cy="132" rx="2.2" ry="1.6" transform="rotate(-20 594.5 132)" fill="none" stroke="#000" stroke-width="1.5"/>
<path d="M598,128 L602,133 L600,130.5 L598.5,133.5 L602,128" fill="none" stroke="#000" stroke-width="1.55" />
<path d="M607,127 C606.7,127.3 605.2,128.2 605,129 C604.8,129.8 605.3,131.7 606,132 C606.7,132.3 608.5,131.2 609,131" fill="none" stroke="#000" stroke-width="1.55" />
<path d="M610.5,126.5 L611,131" stroke="#000" stroke-width="1.3"/>
<path d="M613,127 L616,126 L621,129 L617,131 L613,131" fill="none" stroke="#000" stroke-width="1.56" />
<path d="M624,122 L627,121 L626,125" fill="none" stroke="#000" stroke-width="1.56" />
<path d="M629,120.5 L629.5,125" stroke="#000" stroke-width="1.3"/>
<path d="M632,120 L632.5,124.5" stroke="#000" stroke-width="1.3"/>
<path d="M634,121 L637,120.5" fill="none" stroke="#000" stroke-width="1.56" />
<path d="M699,122 L703,121.5 L707,124.5 L705,127.5 L700,126 Z" fill="none" stroke="#000" stroke-width="1.68" />
<path d="M716,128.5 L722,130 L723,135 L717,134 Z" fill="#555" stroke="#000" stroke-width="1.68" />
<path d="M724,132.5 L728,134.5 L727.5,140 L723.5,138.5 Z" fill="#555" stroke="#000" stroke-width="1.68" />
<path d="M730,137 L733,145" stroke="#000" stroke-width="2.0"/>
<path d="M735.5,146.5 L740,149 L742.5,153.5 L738,154 Z" fill="#555" stroke="#000" stroke-width="1.68" />
<path d="M537.3,385.9 C540.9,385.0 550.9,383.4 558.9,380.8 C566.9,378.2 578.5,372.6 585,370 C591.5,367.4 591.9,367.8 598.1,365.3 C604.4,362.8 617.4,357.0 622.5,355 C627.6,353.0 622.1,354.8 628.75,353.1 C635.4,351.4 656.9,346.4 662.5,345" fill="none" stroke="#000" stroke-width="1.7999999999999998" />
<path d="M556,379 C559.2,377.7 568.0,373.8 575,371 C582.0,368.2 589.8,365.2 598.1,362 C606.4,358.8 614.7,355.3 625,352 C635.3,348.7 654.2,343.7 660,342" fill="none" stroke="#000" stroke-width="1.55" />
<path d="M538,398.5 C541.7,397.3 550.0,395.1 560,391.5 C570.0,387.9 587.2,381.2 598,377 C608.8,372.8 616.3,369.3 625,366 C633.7,362.7 645.8,358.5 650,357" fill="none" stroke="#000" stroke-width="1.68" />
<path d="M541,404 C544.2,402.8 550.5,400.7 560,397 C569.5,393.3 587.2,386.3 598,382 C608.8,377.7 618.0,374.0 625,371 C632.0,368.0 637.5,365.2 640,364" fill="none" stroke="#000" stroke-width="1.55" />
<path d="M548.6,355 L551.7,365.3 L553.8,380.8" fill="none" stroke="#000" stroke-width="1.68" />
<path d="M552.7,355 L554.8,365.3 L555.8,379.7" fill="none" stroke="#000" stroke-width="1.56" />
<path d="M538.3,387 L545,385.5 L546.6,398.3 L540,400 Z" fill="none" stroke="#000" stroke-width="1.68" />
<path d="M541,389 L543.5,392 L541.5,396" fill="none" stroke="#000" stroke-width="1.55" />
<path d="M549,391 C549.2,389.8 550.7,389.0 552,388.5 C553.3,388.0 556.0,387.5 557,388 C558.0,388.5 558.2,390.4 558,391.5 C557.8,392.6 557.2,393.8 556,394.5 C554.8,395.2 552.2,396.1 551,395.5 C549.8,394.9 548.8,392.2 549,391 Z" fill="none" stroke="#000" stroke-width="1.68" />
<path d="M551,391.5 C551.3,391.0 553.2,390.4 554,390.5 C554.8,390.6 555.8,391.5 555.5,392 C555.2,392.5 552.8,393.6 552,393.5 C551.2,393.4 550.7,392.0 551,391.5 Z" fill="none" stroke="#000" stroke-width="1.55" />
<path d="M563,386 C563.5,385.2 565.8,384.2 567,384 C568.2,383.8 570.0,383.9 570.3,384.5 C570.6,385.1 570.0,386.8 569,387.5 C568.0,388.2 565.0,388.8 564,388.5 C563.0,388.2 562.5,386.8 563,386 Z" fill="none" stroke="#000" stroke-width="1.56" />
<path d="M571.3,379.5 C571.6,378.8 574.9,377.5 577,377 C579.1,376.5 582.9,376.2 583.7,376.6 C584.5,377.0 583.5,378.8 582,379.5 C580.5,380.2 576.8,381.0 575,381 C573.2,381.0 571.0,380.2 571.3,379.5 Z" fill="none" stroke="#000" stroke-width="1.56" />
<path d="M586,368.4 L588.5,372 L586.5,376 L589.9,380.8" fill="none" stroke="#000" stroke-width="1.68" />
<path d="M590,367 L597,364.5 L597.5,370 L590.5,372.5 Z" fill="none" stroke="#000" stroke-width="1.56" />
<path d="M590.5,373 L597.5,370.5 L598,376.5 L591,379 Z" fill="none" stroke="#000" stroke-width="1.56" />
<path d="M602,362.5 L610,359.5 L612,365 L604,368 Z" fill="none" stroke="#000" stroke-width="1.56" />
<path d="M613,358 C613.5,356.6 617.3,355.7 619,355.5 C620.7,355.3 622.5,355.9 623,357 C623.5,358.1 623.2,360.8 622,362 C620.8,363.2 617.5,364.7 616,364 C614.5,363.3 612.5,359.4 613,358 Z" fill="none" stroke="#000" stroke-width="1.68" />
<path d="M615,359 C615.3,358.3 618.0,357.4 619,357.5 C620.0,357.6 621.3,358.8 621,359.5 C620.7,360.2 618.0,361.6 617,361.5 C616.0,361.4 614.7,359.7 615,359 Z" fill="none" stroke="#000" stroke-width="1.55" />
<circle cx="546.6" cy="400.4" r="1.2" fill="none" stroke="#000" stroke-width="1.3"/>
<circle cx="579.5" cy="388" r="1.3" fill="none" stroke="#000" stroke-width="1.3"/>
<circle cx="604" cy="372" r="1.2" fill="none" stroke="#000" stroke-width="1.3"/>
<path d="M570.3,364 L579.5,363 L580,369 L571,370 Z" fill="none" stroke="#000" stroke-width="1.56" />
<circle cx="616.9" cy="346.25" r="3" fill="none" stroke="#000" stroke-width="1.54"/>
<circle cx="648.1" cy="348.1" r="3.8" fill="none" stroke="#000" stroke-width="1.54"/>
<circle cx="648.1" cy="348.1" r="1.5" fill="none" stroke="#000" stroke-width="1.3"/>
<circle cx="643.1" cy="301.25" r="2.8" fill="none" stroke="#000" stroke-width="1.54"/>
<path d="M627.5,365 L632.5,363.5 L633,368 L628,369.5 Z" fill="none" stroke="#000" stroke-width="1.55" />
<path d="M637.5,361.25 L645,358.5 L645.5,362 L638,365 Z" fill="none" stroke="#000" stroke-width="1.55" />
<path d="M662.5,347.5 L662.5,390 L706.25,390 L706.25,385" fill="none" stroke="#000" stroke-width="1.55" />
<path d="M682.9,390 L682.9,400" stroke="#000" stroke-width="1.2"/>
<path d="M691.3,304.6 L696,303.6 L711,308.3 L719.5,308.3 L718.5,313 L716.7,326.2 L715.7,335.6 L712.9,338.4 L707.3,343.1 L701.6,345 L696,345 L694.6,341.2 L693.6,329 L692.2,318.7 L690.3,316.8 L689.9,313 L691.3,309.3 Z" fill="#fff" stroke="#000" stroke-width="2.4" />
<path d="M696,304.6 L695.5,325 L695.5,344" fill="none" stroke="#000" stroke-width="1.7999999999999998" />
<path d="M711,309.3 L710,326.2 L708.2,335.6 L703,340" fill="none" stroke="#000" stroke-width="1.7999999999999998" />
<path d="M696.4,317 L710,320.8" fill="none" stroke="#000" stroke-width="1.7999999999999998" />
<path d="M696.6,320 L710,324" fill="none" stroke="#000" stroke-width="1.68" />
<path d="M697,325 L709.5,329" fill="none" stroke="#000" stroke-width="1.7999999999999998" />
<path d="M697,328.5 L709,332.5" fill="none" stroke="#000" stroke-width="1.68" />
<circle cx="701.1" cy="338" r="4.0" fill="none" stroke="#000" stroke-width="1.7600000000000002"/>
<circle cx="701.1" cy="338" r="1.8" fill="none" stroke="#000" stroke-width="1.4300000000000002"/>
<path d="M706.1,345 L706.1,354" stroke="#000" stroke-width="1.3"/>
<path d="M43.9,507.5 L49,492.3 L52.2,494.8 L71.8,485.3 L77.5,498 L59.1,508.7 L59.1,513.2 Z" fill="#000" stroke="#000" stroke-width="1.55" />
<text x="0" y="0" font-family="Liberation Sans" font-weight="bold" font-size="17.5" stroke="#000" stroke-width="0.9" transform="translate(77.8,497.2) rotate(-26)">FR</text>
<circle cx="102.4" cy="482.5" r="2.2" fill="#000" stroke="#000" stroke-width="0.5"/>
<text x="843" y="522" class="code" font-size="11" textLength="67" lengthAdjust="spacing">SH33-B4803</text>
<text x="920" y="522" class="lbl" font-weight="bold" font-size="10">A</text>
<text x="316" y="165.0" class="lbl" font-size="17.8">2</text>
<text x="316.9" y="182.5" class="lbl" font-size="17.8">8</text>
<path d="M289.1,267 L289.1,255.6 L285.8,258.2" fill="none" stroke="#000" stroke-width="2.1" stroke-linecap="butt" stroke-linejoin="miter"/>
<text x="284.2" y="284.8" class="lbl" font-size="17.8">7</text>
<text x="411.3" y="327.2" class="lbl" font-size="17.8">5</text>
<path d="M411.9,343.6 L411.9,332.6 L408.59999999999997,335.20000000000005" fill="none" stroke="#000" stroke-width="2.1" stroke-linecap="butt" stroke-linejoin="miter"/>
<path d="M421,343.6 L421,332.6 L417.7,335.20000000000005" fill="none" stroke="#000" stroke-width="2.1" stroke-linecap="butt" stroke-linejoin="miter"/>
<path d="M465.2,312.6 L465.2,300.8 L461.9,303.40000000000003" fill="none" stroke="#000" stroke-width="2.1" stroke-linecap="butt" stroke-linejoin="miter"/>
<text x="468.8" y="313.8" class="lbl" font-size="17.8">3</text>
<text x="497.5" y="388.8" class="lbl" font-size="17.8">6</text>
<path d="M496.9,405.7 L496.9,394.2 L493.59999999999997,396.8" fill="none" stroke="#000" stroke-width="2.1" stroke-linecap="butt" stroke-linejoin="miter"/>
<text x="500.9" y="406.3" class="lbl" font-size="17.8">2</text>
<text x="700.4" y="367.0" class="lbl" font-size="17.8">4</text>
<path d="M700.9,381.6 L700.9,370.5 L697.6,373.1" fill="none" stroke="#000" stroke-width="2.1" stroke-linecap="butt" stroke-linejoin="miter"/>
<text x="704.5" y="382.8" class="lbl" font-size="17.8">0</text>
<text x="677.6" y="415.8" class="lbl" font-size="17.8">3</text>
<text x="678.6" y="434.3" class="lbl" font-size="17.8">9</text>
</svg>
</body></html>
